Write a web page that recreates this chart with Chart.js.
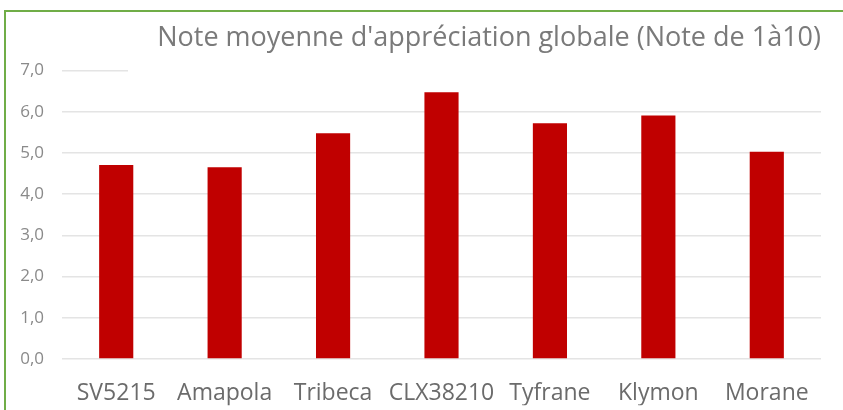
<!DOCTYPE html>
<html>
<head>
<meta charset="utf-8">
<script src="https://cdn.jsdelivr.net/npm/chart.js@4/dist/chart.umd.min.js"></script>
<style>
  body { margin: 0; background: #fff; }
  #cadre { position: absolute; left: 4px; top: 10px; width: 860px; height: 420px;
           border-left: 2px solid #70ad47; border-top: 2px solid #70ad47; }
  #zone { position: absolute; left: 0; top: 0; width: 843px; height: 410px; }
</style>
</head>
<body>
<div id="cadre"></div>
<div id="zone"><canvas id="barChart"></canvas></div>
<script>
// variétés et notes moyennes
var varietes = ["SV5215", "Amapola", "Tribeca", "CLX38210", "Tyfrane", "Klymon", "Morane"];
var notes = [4.71, 4.65, 5.48, 6.47, 5.72, 5.91, 5.03];
var graduations = [0, 1, 2, 3, 4, 5, 6, 7];

// cache le bout de la ligne 7,0 derrière le titre (comme dans Excel)
var masqueTitre = {
  id: 'masqueTitre',
  beforeDatasetsDraw: function (chart) {
    var ctx = chart.ctx;
    ctx.save();
    ctx.fillStyle = '#ffffff';
    ctx.fillRect(128, chart.chartArea.top - 6, 843 - 128, 12);
    ctx.restore();
  }
};

var data = {
  labels: varietes,
  datasets: [{
    label: 'Note moyenne',
    backgroundColor: '#c00000',
    borderWidth: 0,
    categoryPercentage: 1,
    barPercentage: 0.315,
    data: notes
  }]
};

var options = {
  responsive: true,
  maintainAspectRatio: false,
  animation: false,
  layout: { padding: { left: 0, right: 22, top: 0, bottom: 4.8 } },
  plugins: {
    legend: { display: false },
    tooltip: { enabled: false },
    title: {
      display: true,
      text: "Note moyenne d'appréciation globale (Note de 1à10)",
      align: 'end',
      color: '#7a7a7a',
      font: { family: 'Open Sans', size: 27, weight: 'normal' },
      padding: { top: 21.8, bottom: 16.3 }
    }
  },
  scales: {
    x: {
      afterFit: function (scale) { scale.height = 46.2; },
      grid: { display: false, drawTicks: false },
      border: { display: false },
      ticks: {
        color: '#6b6b6b',
        padding: 21,
        maxRotation: 0,
        autoSkip: false,
        font: { family: 'Open Sans', size: 23 }
      }
    },
    y: {
      min: 0,
      max: 7,
      afterFit: function (scale) { scale.width = 62; },
      afterBuildTicks: function (scale) {
        scale.ticks = graduations.map(function (v) { return { value: v }; });
      },
      grid: { color: '#e4e4e4', lineWidth: 1.5, drawTicks: false },
      border: { display: false },
      ticks: {
        color: '#8a8a8a',
        padding: 18,
        font: { family: 'Open Sans', size: 17 },
        callback: function (v) { return v.toFixed(1).replace('.', ','); }
      }
    }
  }
};

var ctx = document.getElementById('barChart').getContext('2d');
var myBarChart = new Chart(ctx, {
  type: 'bar',
  data: data,
  options: options,
  plugins: [masqueTitre]
});
</script>
</body>
</html>
